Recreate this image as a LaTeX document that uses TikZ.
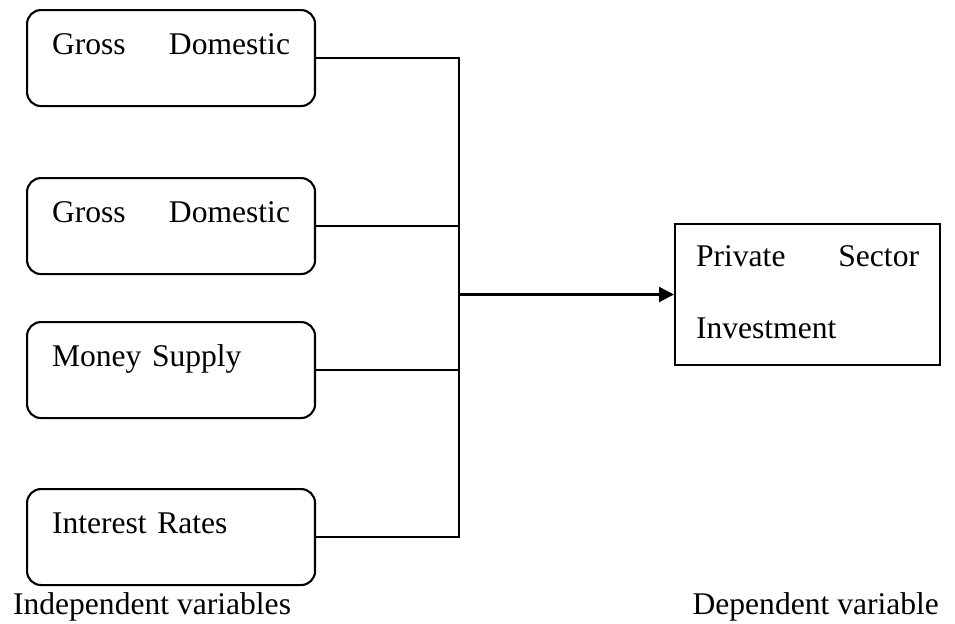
\documentclass[tikz,border=0pt]{standalone}
\usepackage{fontspec}
\setmainfont{Liberation Serif}
\usepackage{xcolor}
\usepackage{tikz}
\usetikzlibrary{positioning,arrows.meta}

\begin{document}
\begin{tikzpicture}[x=0.38pt, y=-0.38pt, line width=0.8pt, font=\fontsize{12pt}{27.36pt}\selectfont,
	var/.style={draw, rounded corners=5.3pt, anchor=north west, minimum width=109.44pt, inner xsep=9.5pt, inner ysep=0pt, text width=90.44pt, align=left, text height=16.72pt, text depth=19.76pt},
	dep/.style={draw, anchor=west, minimum width=100.7pt, inner xsep=7.98pt, inner ysep=0pt, text width=84.74pt, align=left, text height=15.96pt, text depth=37.62pt}]
		\useasboundingbox (0,0) rectangle (955,623);
		\node[var] (gdp) at (26,9) {Gross\hfill Domestic};
		\node[var, below=26.56pt of gdp] (gdpb) {Gross\hfill Domestic};
		\node[var, below=17.44pt of gdpb] (money) {Money Supply};
		\node[var, below=26.18pt of money] (interest) {Interest Rates};
		\node[dep] (invest) at (674,294.5) {Private\hfill Sector\\Investment};
		\coordinate (joint) at (459,294.5);
		\draw (gdp.east) -| (joint);
		\draw (interest.east) -| (joint);
		\draw (gdpb.east) -- (gdpb.east -| joint);
		\draw (money.east) -- (money.east -| joint);
		\draw[-{Triangle[length=5.7pt, width=5.7pt]}] (joint) -- (invest.west);
		\node[anchor=base west, inner sep=0pt] (indep) at (12,614) {Independent variables};
		\node[anchor=base east, inner sep=0pt] (depend) at (940,614) {Dependent variable};
	\end{tikzpicture}
\end{document}
